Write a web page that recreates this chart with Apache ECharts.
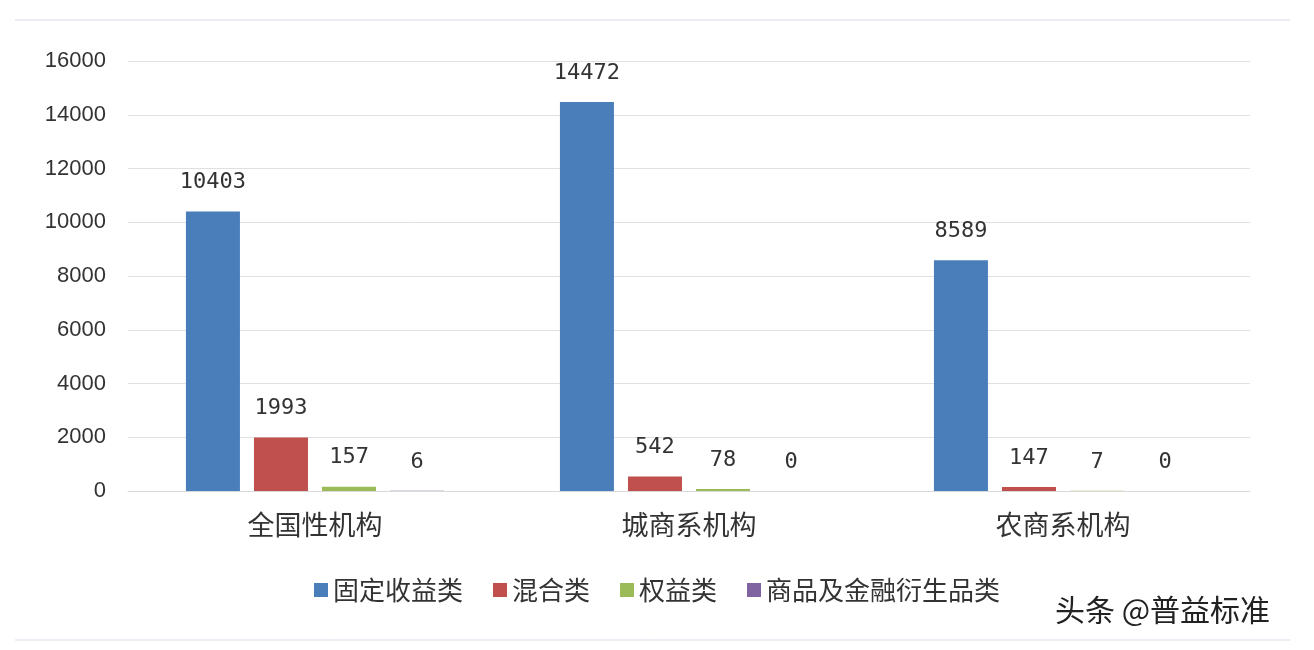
<!DOCTYPE html>
<html>
<head>
<meta charset="utf-8">
<script src="https://cdn.jsdelivr.net/npm/echarts@6/dist/echarts.min.js"></script>
<style>html,body{margin:0;padding:0;background:#fff}#main{width:1314px;height:650px}</style>
</head>
<body>
<div id="main"></div>
<script>
var categories = ['全国性机构', '城商系机构', '农商系机构'];
var seriesNames = ['固定收益类', '混合类', '权益类', '商品及金融衍生品类'];
var fixedIncome = [10403, 14472, 8589];
var mixed = [1993, 542, 147];
var equity = [157, 78, 7];
var commodity = [6, 0, 0];
var colors = ['#4a7ebb', '#c0504d', '#9bbb59', '#8064a2'];

var myChart = echarts.init(document.getElementById('main'));
var labelFont = 'DejaVu Sans Mono, Liberation Mono, monospace';
function mk(name, data, i) {
  return {
    name: name, type: 'bar', data: data, barWidth: 54, barGap: '26%',
    itemStyle: { color: colors[i] },
    label: { show: true, position: 'top', distance: 18, fontSize: 22, color: '#333', fontFamily: labelFont }
  };
}
var option = {
  animation: false,
  grid: { left: 128, right: 64, top: 61, bottom: 159, containLabel: false },
  legend: {
    bottom: 42, left: 'center', itemWidth: 14, itemHeight: 14, itemGap: 30,
    icon: 'rect',
    textStyle: { fontSize: 26, color: '#333', fontFamily: 'Noto Sans CJK SC' },
    data: seriesNames
  },
  xAxis: {
    type: 'category', data: categories,
    axisLine: { lineStyle: { color: '#d9d9d9' } }, axisTick: { show: false },
    axisLabel: { fontSize: 27, color: '#333', margin: 20, fontFamily: 'Noto Sans CJK SC' }
  },
  yAxis: {
    type: 'value', min: 0, max: 16000, interval: 2000,
    axisLine: { show: false }, axisTick: { show: false },
    splitLine: { lineStyle: { color: '#e0e0e0' } },
    axisLabel: { fontSize: 22, color: '#333', margin: 22, fontFamily: 'Liberation Sans', formatter: function (v) { return String(v); } }
  },
  series: [mk(seriesNames[0], fixedIncome, 0), mk(seriesNames[1], mixed, 1), mk(seriesNames[2], equity, 2), mk(seriesNames[3], commodity, 3)],
  graphic: [
    { type: 'line', shape: { x1: 15, y1: 20, x2: 1290, y2: 20 }, style: { stroke: '#d9d9e8', lineWidth: 1 } },
    { type: 'line', shape: { x1: 15, y1: 640, x2: 1290, y2: 640 }, style: { stroke: '#d9d9e8', lineWidth: 1 } },
    { type: 'text', left: 1055, top: 595, style: { text: '头条 @普益标准', fontSize: 30, fill: '#222', fontFamily: 'Noto Sans CJK SC' } }
  ]
};
myChart.setOption(option);
</script>
</body>
</html>
